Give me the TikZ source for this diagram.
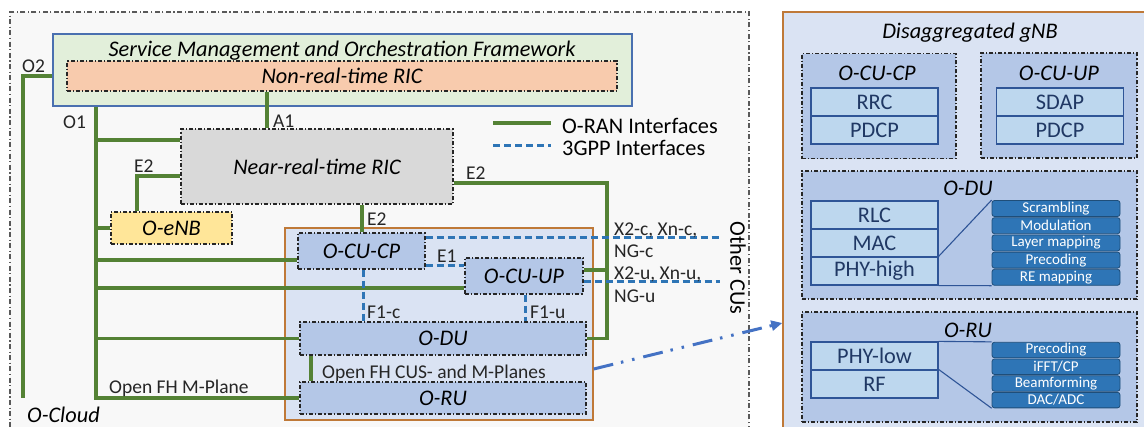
\documentclass[tikz,border=0pt]{standalone}
\usepackage{fontspec}
\setmainfont{Carlito}
\usetikzlibrary{arrows.meta}
\definecolor{cloudfill}{HTML}{F8F8F8}
\definecolor{cloudline}{HTML}{595959}
\definecolor{boxline}{HTML}{262626}
\definecolor{smofill}{HTML}{E2EFDA}
\definecolor{smoline}{HTML}{4A70B0}
\definecolor{nrtfill}{HTML}{F8CBAD}
\definecolor{grayfill}{HTML}{D9D9D9}
\definecolor{enbfill}{HTML}{FFE699}
\definecolor{gnbfill}{HTML}{DAE3F3}
\definecolor{gnbline}{HTML}{BF7938}
\definecolor{cufill}{HTML}{B4C7E7}
\definecolor{layfill}{HTML}{BDD7EE}
\definecolor{layline}{HTML}{2F5597}
\definecolor{laytext}{HTML}{203864}
\definecolor{fnfill}{HTML}{2E75B6}
\definecolor{fnline}{HTML}{1F4E79}
\definecolor{orgreen}{HTML}{548235}
\definecolor{tblue}{HTML}{2E75B6}
\definecolor{arrblue}{HTML}{4472C4}
\definecolor{lbltext}{HTML}{262626}
\newcommand\mainfs{\fontsize{22.3}{26}\selectfont}
\newcommand\lblfs{\fontsize{19.5}{22}\selectfont}
\newcommand\smallfs{\fontsize{15}{17}\selectfont}
\begin{document}
\begin{tikzpicture}[x=1pt,y=-1pt,
  dd/.style={dash pattern=on 4pt off 2pt on 1.2pt off 2pt},
  box/.style={draw=boxline, line width=1.1pt, dd, inner sep=0pt, font=\mainfs\itshape},
  grp/.style={box, fill=cufill},
  layer/.style={draw=layline, line width=1.2pt, fill=layfill, text=laytext, inner sep=0pt,
    minimum width=127, minimum height=28, font=\mainfs},
  fn/.style={draw=fnline, line width=0.8pt, fill=fnfill, text=white, rounded corners=2.5pt,
    inner sep=0pt, minimum width=128, minimum height=16, font=\smallfs},
  oran/.style={draw=orgreen, line width=3.2pt},
  tgpp/.style={draw=tblue, line width=3pt, dash pattern=on 7pt off 4pt},
  zoomline/.style={draw=layline, line width=1.1pt},
  arr/.style={draw=arrblue, line width=3pt,
    dash pattern=on 20pt off 8pt on 2.5pt off 9pt on 2.5pt off 9pt,
    -{Triangle[length=11pt,width=10pt]}},
  lbl/.style={font=\lblfs, text=lbltext, inner sep=0pt, anchor=base west},
  ttl/.style={font=\mainfs\itshape, inner sep=0pt, anchor=base},
]
\useasboundingbox (0,0) rectangle (1144,426);
\fill[white] (0,0) rectangle (1144,426);

% O-Cloud
\node[draw=cloudline, line width=1.1pt, dash pattern=on 5pt off 2.5pt on 1.2pt off 2.5pt,
  fill=cloudfill, minimum width=739, minimum height=430, inner sep=0pt] (cloud) at (379.5,227) {};
\node[ttl, anchor=base west] (cloudt) at (27,422) {O-Cloud};

% SMO and non-RT RIC
\node[draw=smoline, line width=1.2pt, fill=smofill, minimum width=579, minimum height=72, inner sep=0pt] (smo) at (342.5,70) {};
\node[ttl] (smot) at (342,56) {Service Management and Orchestration Framework};
\node[box, fill=nrtfill, minimum width=550, minimum height=30] (nonrt) at (342,76) {Non-real-time RIC};

% Near-RT RIC, O-eNB
\node[box, fill=grayfill, minimum width=272, minimum height=75] (nearrt) at (317,166.5) {Near-real-time RIC};
\node[box, fill=enbfill, minimum width=121, minimum height=32] (oenb) at (171.5,228) {O-eNB};

% gNB
\node[draw=gnbline, line width=1.4pt, fill=gnbfill, minimum width=308, minimum height=192, inner sep=0pt] (gnb) at (439,324) {};
\node[grp, minimum width=127, minimum height=36] (cucp) at (361.5,251) {O-CU-CP};
\node[grp, minimum width=118, minimum height=36] (cuup) at (524,276) {O-CU-UP};
\node[grp, minimum width=286, minimum height=33] (du) at (443,338.5) {O-DU};
\node[grp, minimum width=286, minimum height=32] (ru) at (443,398) {O-RU};

% legend
\coordinate (lg1a) at (493,123); \coordinate (lg1b) at (551,123);
\coordinate (lg2a) at (493,145); \coordinate (lg2b) at (551,145);
\draw[oran] (lg1a) -- (lg1b);
\draw[tgpp] (lg2a) -- (lg2b);
\node[lbl, font=\mainfs, text=black] (lg1t) at (562,133) {O-RAN Interfaces};
\node[lbl, font=\mainfs, text=black] (lg2t) at (562,155) {3GPP Interfaces};

% helper coordinates
\coordinate (o1) at (96,0);
\coordinate (o2) at (23,398);
\coordinate (e2x) at (607,0);
\coordinate (xc) at (720,237);
\coordinate (xu) at (720,281);

% O2
\draw[oran] (smo.west |- nonrt.west) -| (o2);
\node[lbl] (o2t) at (22,72) {O2};
% O1 trunk and branches
\draw[oran] (smo.south -| o1) |- (ru.west);
\node[lbl] (o1t) at (63,128) {O1};
\draw[oran] (o1 |- 0,140) -- (nearrt.west |- 0,140);
\draw[oran] (o1 |- oenb.west) -- (oenb.west);
\draw[oran] (o1 |- 0,260) -- (cucp.west |- 0,260);
\draw[oran] (o1 |- 0,288) -- (cuup.west |- 0,288);
\draw[oran] (o1 |- du.west) -- (du.west);
\node[lbl] (mpt) at (109,393) {Open FH M-Plane};
% A1
\draw[oran] (nonrt.south -| 267,0) -- (nearrt.north -| 267,0);
\node[lbl] (a1t) at (273,127) {A1};
% E2 links
\draw[oran] (nearrt.west |- 0,176) -| (oenb.north -| 137,0);
\node[lbl] (e2a) at (134,172) {E2};
\draw[oran] (nearrt.east |- 0,183) -| (e2x |- du.east) -- (du.east);
\node[lbl] (e2b) at (466,179) {E2};
\draw[oran] (cuup.east |- 0,270) -- (e2x |- 0,270);
\draw[oran] (nearrt.south -| 362,0) -- (cucp.north -| 362,0);
\node[lbl] (e2c) at (367,225) {E2};
% 3GPP links
\draw[tgpp] (cucp.east |- 0,265) -- (cuup.west |- 0,265);
\node[lbl] (e1t) at (437,262) {E1};
\draw[tgpp] (cucp.south -| 363,0) -- (du.north -| 363,0);
\node[lbl] (f1ct) at (367,318) {F1-c};
\draw[tgpp] (cuup.south -| 525,0) -- (du.north -| 525,0);
\node[lbl] (f1ut) at (530,318) {F1-u};
\draw[tgpp] (cucp.east |- xc) -- (xc);
\draw[tgpp] (cuup.east |- xu) -- (xu);
\node[lbl] (xct) at (614,235) {X2-c, Xn-c,};
\node[lbl] (ngct) at (614,257) {NG-c};
\node[lbl] (xut) at (614,279) {X2-u, Xn-u,};
\node[lbl] (ngut) at (614,302) {NG-u};
\node[font=\mainfs, rotate=-90, inner sep=0pt] (other) at (738,268) {Other CUs};
% fronthaul
\draw[oran] (du.south -| 311,0) -- (ru.north -| 311,0);
\node[lbl] (fht) at (322,378) {Open FH CUS- and M-Planes};

% right panel
\node[draw=gnbline, line width=1.4pt, fill=gnbfill, minimum width=364, minimum height=430, inner sep=0pt] (dgnb) at (965,227) {};
\node[ttl] (dgnbt) at (970,38) {Disaggregated gNB};
\node[grp, minimum width=154, minimum height=105] (gcp) at (879,106) {};
\node[grp, minimum width=156, minimum height=105] (gup) at (1059,105.5) {};
\node[grp, minimum width=335, minimum height=128] (gdu) at (969.5,235) {};
\node[grp, minimum width=335, minimum height=110] (gru) at (969.5,367) {};
\node[ttl] (gcpt) at (877,80) {O-CU-CP};
\node[ttl] (gupt) at (1059,80) {O-CU-UP};
\node[ttl] (gdut) at (968,195) {O-DU};
\node[ttl] (grut) at (968,337) {O-RU};

\node[layer] (rrc) at (874.5,102) {RRC};
\node[layer] (pdcp1) at (874.5,130) {PDCP};
\node[layer] (sdap) at (1060,102) {SDAP};
\node[layer] (pdcp2) at (1060,130) {PDCP};
\node[layer] (rlc) at (874.5,215) {RLC};
\node[layer] (mac) at (874.5,243) {MAC};
\node[layer] (phyh) at (874.5,271) {PHY-high};
\node[layer] (phyl) at (874.5,356) {PHY-low};
\node[layer] (rf) at (874.5,384) {RF};

\node[fn] (scr) at (1056,208.5) {Scrambling};
\node[fn] (modu) at (1056,225.7) {Modulation};
\node[fn] (lmap) at (1056,242.9) {Layer mapping};
\node[fn] (prec1) at (1056,260.1) {Precoding};
\node[fn] (rem) at (1056,277.3) {RE mapping};
\node[fn, minimum height=15.5] (prec2) at (1056,350) {Precoding};
\node[fn, minimum height=15.5] (ifft) at (1056,366.7) {iFFT/CP};
\node[fn, minimum height=15.5] (bf) at (1056,383.4) {Beamforming};
\node[fn, minimum height=15.5] (dac) at (1056,400.1) {DAC/ADC};

\draw[zoomline] (phyh.north east) -- (scr.north west);
\draw[zoomline] (phyh.south east) -- (rem.south west);
\draw[zoomline] (phyl.north east) -- (prec2.north west);
\draw[zoomline] (rf.north east) -- (dac.south west);

% link to right panel
\draw[arr] (gnb.east |- 0,369) -- (dgnb.west |- 0,323);
\end{tikzpicture}
\end{document}
